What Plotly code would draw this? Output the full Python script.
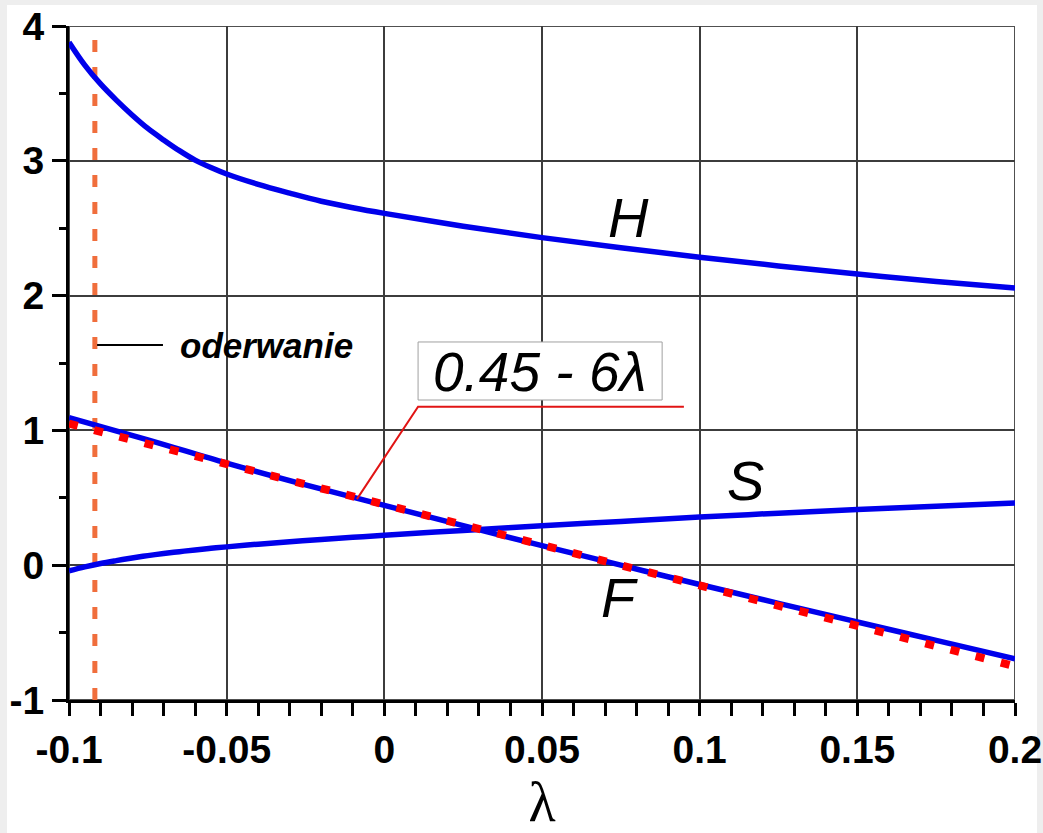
import plotly.graph_objects as go

# ---- data ----
LAMBDA = [-0.1, -0.095, -0.09, -0.085, -0.08, -0.075, -0.07, -0.065, -0.06, -0.055,
          -0.05, -0.04, -0.03, -0.02, -0.01, 0.0, 0.025, 0.05, 0.075, 0.1,
          0.125, 0.15, 0.175, 0.2]
H_VALUES = [3.88, 3.71, 3.57, 3.45, 3.34, 3.24, 3.155, 3.075, 3.005, 2.95,
            2.902, 2.825, 2.76, 2.70, 2.652, 2.61, 2.515, 2.43, 2.355, 2.285,
            2.22, 2.16, 2.105, 2.057]
S_VALUES = [-0.042, -0.012, 0.013, 0.034, 0.0535, 0.071, 0.0865, 0.1005, 0.1133, 0.125,
            0.136, 0.156, 0.174, 0.191, 0.207, 0.222, 0.258, 0.292, 0.325, 0.357,
            0.386, 0.413, 0.438, 0.462]
F_LAMBDA = [-0.1, -0.075, -0.05, -0.025, 0.0, 0.025, 0.05, 0.075, 0.1,
            0.125, 0.15, 0.175, 0.2]
F_VALUES = [1.095, 0.93, 0.757, 0.596, 0.444, 0.293, 0.145, 0.0, -0.143,
            -0.283, -0.421, -0.558, -0.695]
FIT_LAMBDA = [-0.1, 0.2]
FIT_VALUES = [1.05, -0.75]
SEP_LAMBDA = [-0.0918, -0.0918]
SEP_Y = [-1, 4]

X_TICKS = [-0.1, -0.05, 0, 0.05, 0.1, 0.15, 0.2]
X_TICK_TEXT = ["-0.1", "-0.05", "0", "0.05", "0.1", "0.15", "0.2"]
Y_TICKS = [-1, 0, 1, 2, 3, 4]
Y_TICK_TEXT = ["-1", "0", "1", "2", "3", "4"]

BLUE = "rgb(0,0,235)"
ARIAL = "Arial, Liberation Sans, sans-serif"

fig = go.Figure()

fig.add_trace(go.Scatter(x=SEP_LAMBDA, y=SEP_Y, mode="lines",
                         line=dict(color="rgb(240,110,60)", width=5, dash="12px,15px"),
                         hoverinfo="skip"))
fig.add_trace(go.Scatter(x=LAMBDA, y=H_VALUES, mode="lines", line_shape="spline",
                         line=dict(color=BLUE, width=5.5)))
fig.add_trace(go.Scatter(x=LAMBDA, y=S_VALUES, mode="lines", line_shape="spline",
                         line=dict(color=BLUE, width=5.5)))
fig.add_trace(go.Scatter(x=F_LAMBDA, y=F_VALUES, mode="lines", line_shape="spline",
                         line=dict(color=BLUE, width=5.5)))
fig.add_trace(go.Scatter(x=FIT_LAMBDA, y=FIT_VALUES, mode="lines",
                         line=dict(color="rgb(255,0,0)", width=8, dash="9px,17px")))

# leader line for the fit label
fig.add_trace(go.Scatter(x=[-0.0087, 0.0107, 0.095], y=[0.49, 1.175, 1.175], mode="lines",
                         line=dict(color="rgb(225,20,20)", width=2), hoverinfo="skip"))
# leader line for "oderwanie"
fig.add_trace(go.Scatter(x=[-0.0911, -0.0702], y=[1.633, 1.633], mode="lines",
                         line=dict(color="black", width=2), hoverinfo="skip"))

shapes = [
    # white page area on light gray surround
    dict(type="rect", xref="paper", yref="paper",
         x0=(7 - 69) / 946, x1=(1037 - 69) / 946, y0=(700 - 840) / 674, y1=(700 - 5) / 674,
         fillcolor="white", line=dict(width=0), layer="below"),
    # top/right frame
    dict(type="rect", xref="x", yref="y", x0=-0.1, x1=0.2, y0=-1, y1=4,
         line=dict(color="rgb(80,80,80)", width=2), layer="below"),
    # fit label box
    dict(type="rect", xref="x", yref="y", x0=0.0107, x1=0.0881, y0=1.2255, y1=1.656,
         line=dict(color="rgb(160,160,160)", width=1), fillcolor="white", layer="above"),
]

annotations = [
    dict(x=0.0773, y=2.576, text="<i>H</i>", showarrow=False,
         font=dict(family=ARIAL, size=56, color="black")),
    dict(x=0.1144, y=0.632, text="<i>S</i>", showarrow=False,
         font=dict(family=ARIAL, size=56, color="black")),
    dict(x=0.0747, y=-0.24, text="<i>F</i>", showarrow=False,
         font=dict(family=ARIAL, size=56, color="black")),
    dict(x=0.0494, y=1.433, text="<i>0.45 - 6λ</i>", showarrow=False,
         font=dict(family=ARIAL, size=55, color="black")),
    dict(x=-0.0654, y=1.633, text="<b><i>oderwanie</i></b>", showarrow=False,
         xanchor="left", font=dict(family=ARIAL, size=35, color="black")),
]

fig.update_layout(
    width=1043, height=833,
    margin=dict(l=69, r=28, t=26, b=133, autoexpand=False),
    paper_bgcolor="rgb(238,238,238)",
    plot_bgcolor="rgba(0,0,0,0)",
    showlegend=False,
    shapes=shapes,
    annotations=annotations,
    xaxis=dict(
        range=[-0.1, 0.2], tickvals=X_TICKS, ticktext=X_TICK_TEXT, automargin=False,
        showgrid=True, gridcolor="rgb(60,60,60)", gridwidth=1.5,
        zeroline=False, showline=True, linecolor="black", linewidth=3,
        ticks="outside", ticklen=13, tickwidth=2.5, tickcolor="black",
        tickfont=dict(family=ARIAL, size=39, color="black", weight="bold"),
        minor=dict(dtick=0.01, ticks="outside", ticklen=13, tickwidth=2.5,
                   tickcolor="black", showgrid=False),
        title=dict(text="λ", font=dict(family="Liberation Serif, DejaVu Serif, serif",
                                       size=56, color="black"), standoff=2),
    ),
    yaxis=dict(
        range=[-1, 4], tickvals=Y_TICKS, ticktext=Y_TICK_TEXT, automargin=False,
        showgrid=True, gridcolor="rgb(60,60,60)", gridwidth=1.5,
        zeroline=False, showline=True, linecolor="black", linewidth=3,
        ticks="outside", ticklen=14, tickwidth=2.5, tickcolor="black",
        tickfont=dict(family=ARIAL, size=39, color="black", weight="bold"),
        minor=dict(dtick=0.5, ticks="outside", ticklen=7, tickwidth=2.5,
                   tickcolor="black", showgrid=False),
    ),
)

fig.write_html("out.html")
